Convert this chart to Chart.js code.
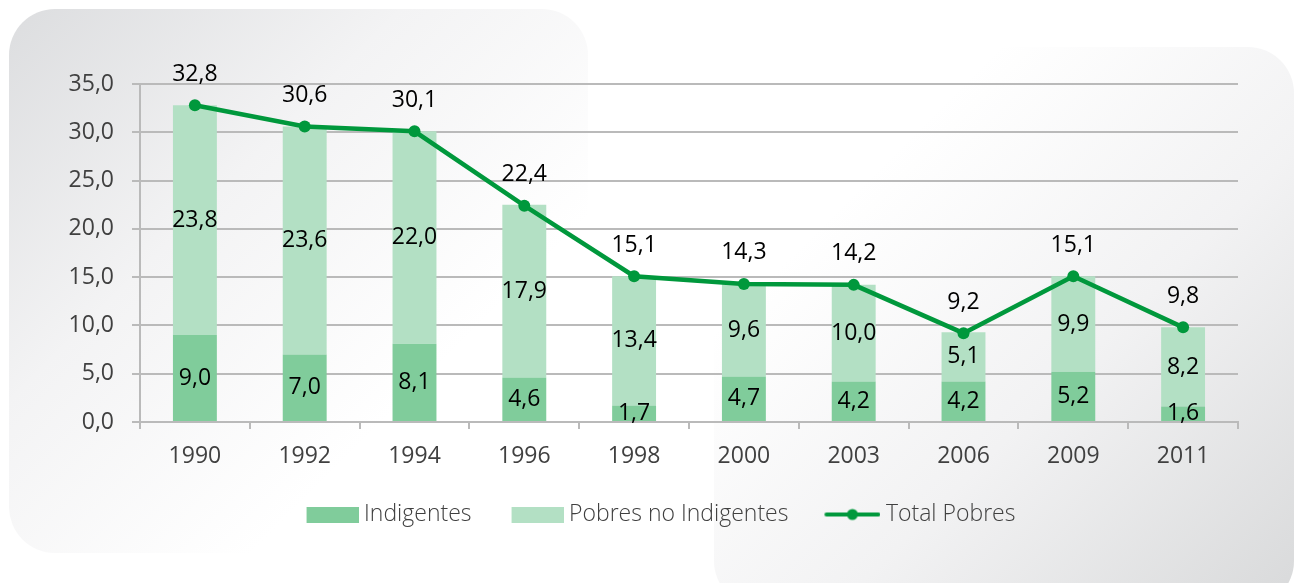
<!DOCTYPE html>
<html>
<head>
<meta charset="utf-8">
<script src="https://cdn.jsdelivr.net/npm/chart.js@4.4.1/dist/chart.umd.min.js"></script>
<style>
  html, body { margin: 0; padding: 0; background: #fff; }
  #wrap { position: relative; width: 1294px; height: 583px; overflow: hidden; }
  .panel { position: absolute; border-radius: 46px; }
  #panelA { left: 9px; top: 9px; width: 579px; height: 544px;
    background: linear-gradient(135deg, #dcdddf 0%, #f3f3f4 35%, #ffffff 70%); }
  #panelB { left: 714px; top: 47px; width: 580px; height: 560px;
    background: linear-gradient(135deg, #ffffff 25%, #f2f2f3 60%, #d8d9da 100%); }
  canvas { position: absolute; left: 0; top: 0; }
</style>
</head>
<body>
<div id="wrap">
  <div class="panel" id="panelA"></div>
  <div class="panel" id="panelB"></div>
  <canvas id="chart" width="1294" height="583"></canvas>
</div>
<script>
const years = ['1990', '1992', '1994', '1996', '1998', '2000', '2003', '2006', '2009', '2011'];
const indigentes = [9.0, 7.0, 8.1, 4.6, 1.7, 4.7, 4.2, 4.2, 5.2, 1.6];
const pobresNoIndigentes = [23.8, 23.6, 22.0, 17.9, 13.4, 9.6, 10.0, 5.1, 9.9, 8.2];
const totalPobres = [32.8, 30.6, 30.1, 22.4, 15.1, 14.3, 14.2, 9.2, 15.1, 9.8];
const yTicks = [0, 5, 10, 15, 20, 25, 30, 35];

const darkGreen = '#80cc9b';
const lightGreen = '#b3e0c4';
const lineGreen = '#00983c';
const gridGray = '#bababa';
const FONT = '"Open Sans", "Noto Sans", sans-serif';

const fmt = v => v.toFixed(1).replace('.', ',');

// legend icons drawn on small canvases (box sits at the right end, left part is spacing)
function boxIcon(color) {
  const c = document.createElement('canvas');
  c.width = 88; c.height = 16;
  const g = c.getContext('2d');
  g.fillStyle = color;
  g.fillRect(36, 0, 52, 16);
  return c;
}
function lineIcon(color) {
  const c = document.createElement('canvas');
  c.width = 88; c.height = 14;
  const g = c.getContext('2d');
  g.strokeStyle = color;
  g.lineWidth = 4;
  g.lineCap = 'round';
  g.beginPath();
  g.moveTo(34, 7); g.lineTo(86, 7);
  g.stroke();
  g.fillStyle = color;
  g.beginPath();
  g.arc(60, 7, 5.5, 0, Math.PI * 2);
  g.fill();
  return c;
}
const legendIcons = [boxIcon(darkGreen), boxIcon(lightGreen), lineIcon(lineGreen)];

const valueLabels = {
  id: 'valueLabels',
  afterDatasetsDraw(chart) {
    const ctx = chart.ctx;
    ctx.save();
    ctx.font = '23px ' + FONT;
    ctx.fillStyle = '#000';
    ctx.textAlign = 'center';
    ctx.textBaseline = 'middle';
    chart.data.datasets.forEach((ds, i) => {
      const meta = chart.getDatasetMeta(i);
      meta.data.forEach((el, j) => {
        const txt = fmt(ds.data[j]);
        if (meta.type === 'bar') {
          ctx.fillText(txt, el.x, (el.y + el.base) / 2);
        } else {
          ctx.fillText(txt, el.x, el.y - 31);
        }
      });
    });
    ctx.restore();
  }
};

new Chart(document.getElementById('chart'), {
  type: 'bar',
  data: {
    labels: years,
    datasets: [
      {
        label: 'Indigentes',
        data: indigentes,
        backgroundColor: darkGreen,
        stack: 'pobres',
        order: 1,
        categoryPercentage: 1,
        barPercentage: 0.4
      },
      {
        label: 'Pobres no Indigentes',
        data: pobresNoIndigentes,
        backgroundColor: lightGreen,
        stack: 'pobres',
        order: 1,
        categoryPercentage: 1,
        barPercentage: 0.4
      },
      {
        type: 'line',
        label: 'Total Pobres',
        data: totalPobres,
        stack: 'total',
        order: 0,
        borderColor: lineGreen,
        backgroundColor: lineGreen,
        borderWidth: 4.5,
        pointRadius: 6,
        pointBackgroundColor: lineGreen,
        pointBorderWidth: 0,
        tension: 0
      }
    ]
  },
  options: {
    responsive: false,
    animation: false,
    layout: { padding: { left: 54, right: 56, top: 84, bottom: 47 } },
    plugins: {
      tooltip: { enabled: false },
      legend: {
        position: 'bottom',
        labels: {
          usePointStyle: true,
          pointStyleWidth: 76,
          padding: 10,
          color: '#404040',
          font: { family: FONT, size: 23, weight: '300' },
          generateLabels: chart => chart.data.datasets.map((ds, i) => ({
            text: ds.label,
            datasetIndex: i,
            pointStyle: legendIcons[i],
            fillStyle: 'transparent',
            strokeStyle: 'transparent',
            lineWidth: 0,
            hidden: false,
            fontColor: '#404040'
          }))
        }
      }
    },
    scales: {
      x: {
        stacked: true,
        afterFit: scale => { scale.height = 71; },
        grid: { drawOnChartArea: false, drawTicks: true, tickLength: 7, color: gridGray, lineWidth: 2 },
        border: { color: gridGray, width: 2 },
        ticks: { color: '#404040', padding: 14, font: { family: FONT, size: 23 } }
      },
      y: {
        stacked: true,
        min: 0,
        max: 35,
        afterFit: scale => { scale.width = 86; },
        afterBuildTicks: scale => { scale.ticks = yTicks.map(v => ({ value: v })); },
        grid: { color: gridGray, lineWidth: 2, tickLength: 8 },
        border: { color: gridGray, width: 2 },
        ticks: {
          color: '#404040',
          padding: 18,
          font: { family: FONT, size: 23 },
          callback: v => fmt(v)
        }
      }
    }
  },
  plugins: [valueLabels]
});
</script>
</body>
</html>
